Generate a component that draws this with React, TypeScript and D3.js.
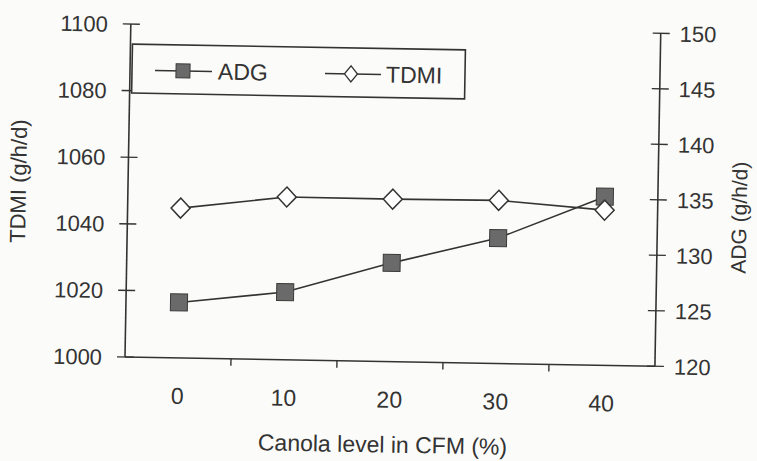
import React, { useEffect, useRef } from 'react';
import * as d3 from 'd3';

const levels = ['0', '10', '20', '30', '40'];
const adg = [125.0, 126.1, 128.9, 131.3, 135.2];
const tdmi = [1045.0, 1048.9, 1048.8, 1049.0, 1046.6];
const leftTicks = [1000, 1020, 1040, 1060, 1080, 1100];
const rightTicks = [120, 125, 130, 135, 140, 145, 150];

function App() {
  const svgRef = useRef<SVGSVGElement>(null);

  useEffect(() => {
    const svg = d3.select(svgRef.current);
    svg.selectAll('*').remove();

    const width = 757;
    const height = 461;
    const left = 125, right = 655, top = 24, bottom = 357;
    const ink = '#333';
    const font = 'Liberation Sans, Arial, sans-serif';

    svg.append('rect').attr('width', width).attr('height', height).attr('fill', '#fbfbf9');

    // the scan is tilted about a degree clockwise
    const g = svg.append('g').attr('transform', `rotate(1, ${left}, ${bottom})`);

    const x = d3.scaleBand().domain(levels).range([left, right]);
    const yL = d3.scaleLinear().domain([1000, 1100]).range([bottom, top]);
    const yR = d3.scaleLinear().domain([120, 150]).range([bottom, top]);
    const cx = (d: string) => (x(d) as number) + x.bandwidth() / 2;

    // axes
    g.append('line').attr('x1', left).attr('x2', left).attr('y1', top).attr('y2', bottom)
      .attr('stroke', ink).attr('stroke-width', 1.6);
    g.append('line').attr('x1', right).attr('x2', right).attr('y1', top).attr('y2', bottom)
      .attr('stroke', ink).attr('stroke-width', 1.6);
    g.append('line').attr('x1', left).attr('x2', right).attr('y1', bottom).attr('y2', bottom)
      .attr('stroke', ink).attr('stroke-width', 1.6);

    g.selectAll('.lt').data(leftTicks).enter().append('line')
      .attr('x1', left - 8).attr('x2', left + 9)
      .attr('y1', (d) => yL(d)).attr('y2', (d) => yL(d))
      .attr('stroke', ink).attr('stroke-width', 1.4);
    g.selectAll('.ll').data(leftTicks).enter().append('text')
      .attr('x', left - 23).attr('y', (d) => yL(d) + 8)
      .attr('text-anchor', 'end')
      .style('font-family', font).style('font-size', '22px').attr('fill', ink)
      .text((d) => d);

    g.selectAll('.rt').data(rightTicks).enter().append('line')
      .attr('x1', right - 8).attr('x2', right + 9)
      .attr('y1', (d) => yR(d)).attr('y2', (d) => yR(d))
      .attr('stroke', ink).attr('stroke-width', 1.4);
    g.selectAll('.rl').data(rightTicks).enter().append('text')
      .attr('x', right + 19).attr('y', (d) => yR(d) + 8)
      .style('font-family', font).style('font-size', '22px').attr('fill', ink)
      .text((d) => d);

    g.selectAll('.xt').data(levels.slice(1)).enter().append('line')
      .attr('x1', (d) => x(d) as number).attr('x2', (d) => x(d) as number)
      .attr('y1', bottom).attr('y2', bottom + 7)
      .attr('stroke', ink).attr('stroke-width', 1.4);
    g.selectAll('.xl').data(levels).enter().append('text')
      .attr('x', cx).attr('y', bottom + 46)
      .attr('text-anchor', 'middle')
      .style('font-family', font).style('font-size', '23px').attr('fill', ink)
      .text((d) => d);

    // titles
    g.append('text').attr('x', 384).attr('y', 448).attr('text-anchor', 'middle')
      .style('font-family', font).style('font-size', '23px').attr('fill', ink)
      .text('Canola level in CFM (%)');
    g.append('text').attr('transform', 'translate(23, 183) rotate(-90)').attr('text-anchor', 'middle')
      .style('font-family', font).style('font-size', '22px').attr('fill', ink)
      .text('TDMI (g/h/d)');
    g.append('text').attr('transform', 'translate(744, 207) rotate(-90)').attr('text-anchor', 'middle')
      .style('font-family', font).style('font-size', '21px').attr('fill', ink)
      .text('ADG (g/h/d)');

    // series
    const tdmiLine = d3.line<number>().x((d, i) => cx(levels[i])).y((d) => yL(d));
    const adgLine = d3.line<number>().x((d, i) => cx(levels[i])).y((d) => yR(d));

    g.append('path').attr('d', tdmiLine(tdmi)).attr('fill', 'none').attr('stroke', ink).attr('stroke-width', 1.6);
    g.append('path').attr('d', adgLine(adg)).attr('fill', 'none').attr('stroke', ink).attr('stroke-width', 1.6);

    const diamond = (px: number, py: number, w: number, h: number) =>
      `M${px},${py - h / 2}L${px + w / 2},${py}L${px},${py + h / 2}L${px - w / 2},${py}Z`;

    g.selectAll('.sq').data(adg).enter().append('rect')
      .attr('x', (d, i) => cx(levels[i]) - 8.5).attr('y', (d) => yR(d) - 8.5)
      .attr('width', 17).attr('height', 17)
      .attr('fill', '#6a6a6a').attr('stroke', '#3a3a3a').attr('stroke-width', 1);
    g.selectAll('.dm').data(tdmi).enter().append('path')
      .attr('d', (d, i) => diamond(cx(levels[i]), yL(d), 19, 20))
      .attr('fill', '#fff').attr('stroke', ink).attr('stroke-width', 1.5);

    // legend
    g.append('rect').attr('x', 127).attr('y', 44).attr('width', 333).attr('height', 49)
      .attr('fill', '#fbfbf9').attr('stroke', ink).attr('stroke-width', 1.6);
    const ly = 70;
    g.append('line').attr('x1', 150).attr('x2', 207).attr('y1', ly).attr('y2', ly)
      .attr('stroke', ink).attr('stroke-width', 1.5);
    g.append('rect').attr('x', 171).attr('y', ly - 7).attr('width', 14).attr('height', 14)
      .attr('fill', '#6a6a6a').attr('stroke', '#3a3a3a');
    g.append('text').attr('x', 213).attr('y', ly + 8)
      .style('font-family', font).style('font-size', '23px').attr('fill', ink).text('ADG');
    g.append('line').attr('x1', 320).attr('x2', 376).attr('y1', ly).attr('y2', ly)
      .attr('stroke', ink).attr('stroke-width', 1.5);
    g.append('path').attr('d', diamond(346, ly, 13, 16))
      .attr('fill', '#fff').attr('stroke', ink).attr('stroke-width', 1.3);
    g.append('text').attr('x', 381).attr('y', ly + 8)
      .style('font-family', font).style('font-size', '23px').attr('fill', ink).text('TDMI');
  }, []);

  return (
    <div style={{ position: 'absolute', left: 0, top: 0 }}>
      <svg ref={svgRef} width={757} height={461} style={{ display: 'block' }}></svg>
    </div>
  );
}

export default App;
